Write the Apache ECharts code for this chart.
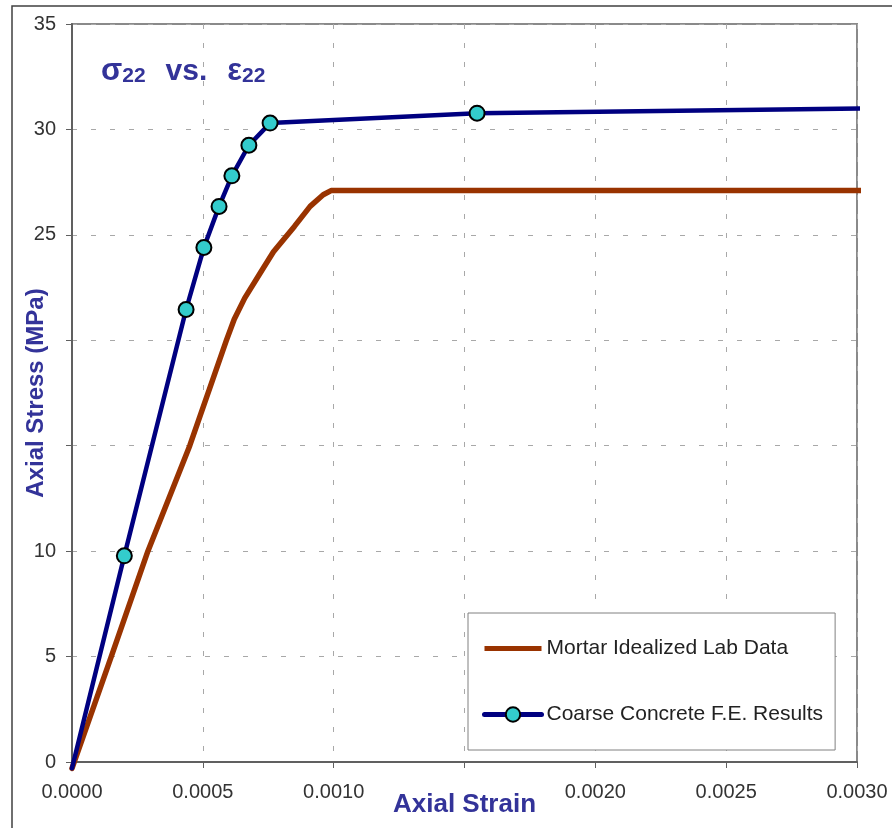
<!DOCTYPE html>
<html>
<head>
<meta charset="UTF-8">
<title>Axial stress vs strain</title>
<script src="https://cdn.jsdelivr.net/npm/echarts@6/dist/echarts.min.js"></script>
<style>
  html, body { margin: 0; padding: 0; background: #fff; }
</style>
</head>
<body>
<div id="main" style="width: 892px;height:828px;"></div>
<script type="text/javascript">
// data: [axial strain, axial stress MPa]
var mortarData = [
  [0, -0.3], [0.00015, 5], [0.00029, 10], [0.00045, 15], [0.00059, 20],
  [0.00062, 21], [0.00066, 22], [0.00072, 23.2], [0.00077, 24.2],
  [0.00085, 25.4], [0.00091, 26.35], [0.00096, 26.9], [0.00099, 27.1],
  [0.00303, 27.1]
];
var concreteData = [
  [0, -0.3], [0.0002, 9.78], [0.000436, 21.46], [0.000504, 24.4],
  [0.000562, 26.35], [0.000611, 27.8], [0.000676, 29.25], [0.000757, 30.3],
  [0.001548, 30.77], [0.00303, 31.0]
];
var seriesNames = ['Mortar Idealized Lab Data', 'Coarse Concrete F.E. Results'];
var xTickLabels = ['0.0000', '0.0005', '0.0010', '', '0.0020', '0.0025', '0.0030'];
var yTickLabels = ['0', '5', '10', '', '', '25', '30', '35'];

var myChart = echarts.init(document.getElementById('main'));

var titleColor = '#333399';
var font = 'Liberation Sans, Arial, sans-serif';

// first and last FE points carry no marker
var concretePoints = concreteData.map(function (p, i) {
  var last = i === 0 || i === concreteData.length - 1;
  return last ? { value: p, symbol: 'none' } : { value: p };
});

var option = {
  animation: false,
  title: {
    text: '{m|σ}{s|22}{v|vs.}{e|ε}{s|22}',
    left: 101,
    top: 57,
    padding: 0,
    textStyle: {
      rich: {
        m: { fontSize: 31, fontWeight: 'bold', color: titleColor, fontFamily: font, lineHeight: 30, verticalAlign: 'bottom' },
        v: { fontSize: 30, fontWeight: 'bold', color: titleColor, fontFamily: font, lineHeight: 30, verticalAlign: 'bottom', padding: [0, 0, 0, 20] },
        e: { fontSize: 31, fontWeight: 'bold', color: titleColor, fontFamily: font, lineHeight: 30, verticalAlign: 'bottom', padding: [0, 0, 0, 20] },
        s: { fontSize: 21, fontWeight: 'bold', color: titleColor, fontFamily: font, lineHeight: 12, verticalAlign: 'bottom' }
      }
    }
  },
  graphic: [{
    type: 'rect',
    shape: { x: 12, y: 6, width: 900, height: 900 },
    style: { fill: 'none', stroke: '#404040', lineWidth: 1.5 },
    silent: true
  }],
  legend: {
    orient: 'vertical',
    left: 468,
    top: 613,
    padding: [25, 12, 25, 14],
    itemGap: 45,
    itemWidth: 57,
    itemHeight: 18,
    backgroundColor: '#fff',
    borderColor: '#808080',
    borderWidth: 1,
    borderRadius: 0,
    textStyle: { fontSize: 21, color: '#222', fontFamily: font, lineHeight: 20 },
    data: [
      { name: seriesNames[0], icon: 'path://M0,0 L57,0 L57,5 L0,5 Z' },
      { name: seriesNames[1], lineStyle: { width: 5 } }
    ]
  },
  grid: {
    left: 72, top: 24, right: 35, bottom: 66,
    outerBoundsMode: 'none',
    containLabel: false,
    show: true,
    borderColor: '#8a8a8a',
    borderWidth: 2,
    backgroundColor: 'transparent'
  },
  xAxis: {
    type: 'value',
    min: 0,
    max: 0.003,
    interval: 0.0005,
    name: 'Axial Strain',
    nameLocation: 'middle',
    nameGap: 30,
    nameMoveOverlap: false,
    nameTextStyle: { fontSize: 26, fontWeight: 'bold', color: titleColor, fontFamily: font },
    axisLine: { onZero: false, lineStyle: { color: '#606060', width: 2 } },
    axisTick: { show: true, length: 6, lineStyle: { color: '#606060', width: 1 } },
    axisLabel: {
      fontSize: 20, color: '#333', fontFamily: font, margin: 20,
      formatter: function (v, i) { return xTickLabels[i]; }
    },
    splitLine: { show: true, lineStyle: { color: '#a8a8a8', type: [5, 14], width: 1 } }
  },
  yAxis: {
    type: 'value',
    min: 0,
    max: 35,
    interval: 5,
    name: 'Axial Stress (MPa)',
    nameLocation: 'middle',
    nameGap: 24,
    nameMoveOverlap: false,
    nameTextStyle: { fontSize: 24, fontWeight: 'bold', color: titleColor, fontFamily: font },
    axisLine: { show: true, onZero: false, lineStyle: { color: '#606060', width: 2 } },
    axisTick: { show: true, length: 6, lineStyle: { color: '#606060', width: 1 } },
    axisLabel: {
      fontSize: 20, color: '#333', fontFamily: font, margin: 16,
      formatter: function (v, i) { return yTickLabels[i]; }
    },
    splitLine: { show: true, lineStyle: { color: '#a8a8a8', type: [5, 14], width: 1 } }
  },
  series: [
    {
      name: seriesNames[0],
      type: 'line',
      data: mortarData,
      symbol: 'none',
      clip: false,
      lineStyle: { color: '#993300', width: 5.5, cap: 'round', join: 'round' },
      itemStyle: { color: '#993300' },
      z: 2
    },
    {
      name: seriesNames[1],
      type: 'line',
      data: concretePoints,
      symbol: 'circle',
      symbolSize: 15,
      showAllSymbol: true,
      clip: false,
      lineStyle: { color: '#000080', width: 4.5, cap: 'round', join: 'round' },
      itemStyle: { color: '#33CCCC', borderColor: '#000', borderWidth: 2 },
      z: 3
    }
  ]
};

myChart.setOption(option);
</script>
</body>
</html>
